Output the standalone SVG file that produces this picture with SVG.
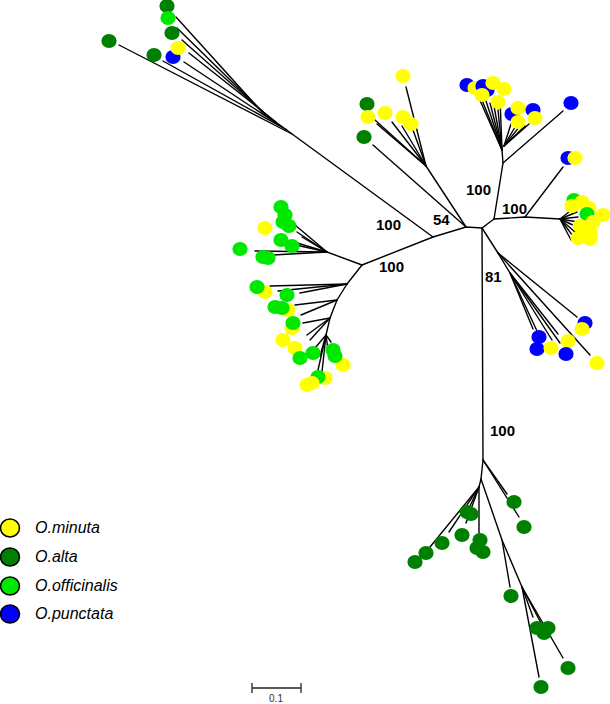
<svg xmlns="http://www.w3.org/2000/svg" width="610" height="704" viewBox="0 0 610 704">
<style>
.br{stroke:#000;stroke-width:1.4;fill:none;stroke-linecap:round}
.y{fill:#FFFF00}.d{fill:#008000}.g{fill:#00E800}.b{fill:#0000FF}
.bs{font-family:"Liberation Sans",Arial,sans-serif;font-weight:bold;font-size:15px;fill:#000}
.lg{font-family:"Liberation Sans",Arial,sans-serif;font-style:italic;font-size:16px;fill:#000}
.lc{stroke:#000;stroke-width:1.5}
</style>
<defs>
<ellipse id="t" rx="7.6" ry="7"/>
</defs>
<rect width="610" height="704" fill="#fff"/>
<g id="connectors" class="br">
<polyline points="433,237 466,227 482,228 494,219"/>
<line x1="433" y1="237" x2="262" y2="112"/>
<line x1="433" y1="237" x2="362" y2="265"/>
<line x1="466" y1="227" x2="426" y2="166"/>
<line x1="466" y1="227" x2="373" y2="145"/>
<polyline points="494,219 503,163 502,150"/>
<line x1="503" y1="163" x2="563" y2="111"/>
<polyline points="494,219 525,217 560,219"/>
<line x1="525" y1="217" x2="563" y2="167"/>
<line x1="482" y1="228" x2="483" y2="460"/>
<line x1="482" y1="228" x2="498" y2="253"/>
<line x1="176" y1="17" x2="262" y2="112"/>
<line x1="177" y1="28" x2="266" y2="115"/>
<line x1="182" y1="40" x2="270" y2="118"/>
<line x1="189" y1="53" x2="276" y2="122"/>
<line x1="184" y1="62" x2="282" y2="127"/>
<line x1="163" y1="61" x2="287" y2="130"/>
<line x1="119" y1="45" x2="292" y2="134"/>
<line x1="406" y1="87" x2="426" y2="166"/>
<line x1="375" y1="120" x2="426" y2="166"/>
<line x1="377" y1="124" x2="426" y2="166"/>
<line x1="392" y1="122" x2="426" y2="166"/>
<line x1="402" y1="126" x2="426" y2="166"/>
<line x1="413" y1="130" x2="426" y2="166"/>
<line x1="478" y1="96" x2="502" y2="150"/>
<line x1="482" y1="100" x2="502" y2="150"/>
<line x1="486" y1="101" x2="502" y2="150"/>
<line x1="490" y1="103" x2="502" y2="150"/>
<line x1="494" y1="106" x2="502" y2="150"/>
<line x1="498" y1="110" x2="502" y2="150"/>
<line x1="500" y1="98" x2="502" y2="150"/>
<line x1="511" y1="124" x2="504" y2="146"/>
<line x1="515" y1="127" x2="504" y2="146"/>
<line x1="520" y1="126" x2="504" y2="146"/>
<line x1="525" y1="126" x2="504" y2="146"/>
<line x1="529" y1="124" x2="504" y2="146"/>
<line x1="560" y1="219" x2="574" y2="208"/>
<line x1="560" y1="219" x2="577" y2="212"/>
<line x1="560" y1="219" x2="578" y2="217"/>
<line x1="560" y1="219" x2="578" y2="222"/>
<line x1="560" y1="219" x2="577" y2="227"/>
<line x1="560" y1="219" x2="575" y2="232"/>
<line x1="560" y1="219" x2="573" y2="236"/>
<line x1="560" y1="219" x2="571" y2="240"/>
<line x1="498" y1="253" x2="577" y2="317"/>
<line x1="498" y1="253" x2="590" y2="355"/>
<line x1="498" y1="253" x2="510" y2="273"/>
<line x1="510" y1="273" x2="533" y2="329"/>
<line x1="510" y1="273" x2="537" y2="331"/>
<line x1="510" y1="273" x2="552" y2="340"/>
<line x1="510" y1="273" x2="560" y2="343"/>
<line x1="510" y1="273" x2="558" y2="334"/>
<line x1="483" y1="460" x2="507" y2="494"/>
<line x1="483" y1="460" x2="519" y2="517"/>
<polyline points="483,460 481,479 479,487"/>
<line x1="479" y1="487" x2="430" y2="547"/>
<line x1="479" y1="487" x2="449" y2="532"/>
<line x1="479" y1="487" x2="466" y2="523"/>
<line x1="479" y1="487" x2="470" y2="506"/>
<line x1="479" y1="487" x2="479" y2="533"/>
<polyline points="481,479 502,540 522,587"/>
<line x1="502" y1="540" x2="510" y2="587"/>
<line x1="522" y1="587" x2="543" y2="627"/>
<line x1="522" y1="587" x2="533" y2="617"/>
<line x1="522" y1="587" x2="563" y2="658"/>
<line x1="522" y1="587" x2="539" y2="677"/>
<line x1="362" y1="265" x2="327" y2="252"/>
<line x1="327" y1="252" x2="295" y2="225"/>
<line x1="327" y1="252" x2="297" y2="232"/>
<line x1="327" y1="252" x2="302" y2="237"/>
<line x1="327" y1="252" x2="297" y2="243"/>
<line x1="327" y1="252" x2="287" y2="243"/>
<line x1="327" y1="252" x2="255" y2="251"/>
<line x1="327" y1="252" x2="273" y2="255"/>
<line x1="362" y1="265" x2="347" y2="284"/>
<line x1="347" y1="284" x2="270" y2="286"/>
<line x1="347" y1="284" x2="278" y2="291"/>
<line x1="347" y1="284" x2="300" y2="293"/>
<polyline points="347,284 337,300 330,318 326,335"/>
<line x1="337" y1="300" x2="295" y2="305"/>
<line x1="337" y1="300" x2="301" y2="315"/>
<line x1="330" y1="318" x2="303" y2="323"/>
<line x1="330" y1="318" x2="307" y2="335"/>
<line x1="330" y1="318" x2="310" y2="340"/>
<line x1="326" y1="335" x2="315" y2="348"/>
<line x1="326" y1="335" x2="320" y2="356"/>
<line x1="326" y1="335" x2="331" y2="342"/>
<line x1="326" y1="335" x2="328" y2="350"/>
<line x1="326" y1="335" x2="322" y2="372"/>
<line x1="326" y1="335" x2="318" y2="370"/>
</g>
<g id="tips-topleft">
<use href="#t" class="d" x="167" y="6"/>
<use href="#t" class="g" x="168" y="18"/>
<use href="#t" class="d" x="172" y="33"/>
<use href="#t" class="b" x="173" y="57"/>
<use href="#t" class="y" x="178" y="48"/>
<use href="#t" class="d" x="154" y="55"/>
<use href="#t" class="d" x="109" y="41"/>
</g>
<g id="tips-54">
<use href="#t" class="y" x="403" y="76"/>
<use href="#t" class="d" x="367" y="104"/>
<use href="#t" class="y" x="368" y="117"/>
<use href="#t" class="y" x="385" y="113"/>
<use href="#t" class="y" x="403" y="117"/>
<use href="#t" class="y" x="411" y="124"/>
<use href="#t" class="d" x="364" y="137"/>
</g>
<g id="tips-topright">
<use href="#t" class="b" x="467" y="85"/>
<use href="#t" class="y" x="475" y="88"/>
<use href="#t" class="b" x="483" y="86"/>
<use href="#t" class="b" x="487" y="90"/>
<use href="#t" class="y" x="482" y="95"/>
<use href="#t" class="y" x="493" y="83"/>
<use href="#t" class="y" x="504" y="89"/>
<use href="#t" class="y" x="498" y="102"/>
<use href="#t" class="b" x="512" y="114"/>
<use href="#t" class="y" x="518" y="108"/>
<use href="#t" class="b" x="533" y="110"/>
<use href="#t" class="y" x="535" y="118"/>
<use href="#t" class="y" x="518" y="122"/>
<use href="#t" class="b" x="571" y="103"/>
<use href="#t" class="b" x="568" y="158"/>
<use href="#t" class="y" x="575" y="158"/>
</g>
<g id="tips-right">
<use href="#t" class="g" x="574" y="200"/>
<use href="#t" class="y" x="572" y="206"/>
<use href="#t" class="y" x="582" y="202"/>
<use href="#t" class="y" x="589" y="208"/>
<use href="#t" class="g" x="587" y="214"/>
<use href="#t" class="y" x="603" y="215"/>
<use href="#t" class="y" x="593" y="222"/>
<use href="#t" class="y" x="580" y="226"/>
<use href="#t" class="y" x="590" y="232"/>
<use href="#t" class="y" x="578" y="238"/>
<use href="#t" class="y" x="590" y="239"/>
</g>
<g id="tips-lowerright">
<use href="#t" class="b" x="585" y="323"/>
<use href="#t" class="y" x="582" y="329"/>
<use href="#t" class="y" x="597" y="363"/>
<use href="#t" class="b" x="539" y="337"/>
<use href="#t" class="b" x="537" y="349"/>
<use href="#t" class="y" x="551" y="348"/>
<use href="#t" class="y" x="568" y="341"/>
<use href="#t" class="b" x="566" y="354"/>
</g>
<g id="tips-bottom">
<use href="#t" class="d" x="514" y="502"/>
<use href="#t" class="d" x="524" y="527"/>
<use href="#t" class="d" x="426" y="553"/>
<use href="#t" class="d" x="415" y="562"/>
<use href="#t" class="d" x="442" y="543"/>
<use href="#t" class="d" x="462" y="535"/>
<use href="#t" class="d" x="467" y="512"/>
<use href="#t" class="d" x="471" y="514"/>
<use href="#t" class="d" x="480" y="540"/>
<use href="#t" class="d" x="477" y="548"/>
<use href="#t" class="d" x="483" y="552"/>
<use href="#t" class="d" x="511" y="596"/>
<use href="#t" class="d" x="537" y="628"/>
<use href="#t" class="d" x="548" y="628"/>
<use href="#t" class="d" x="544" y="633"/>
<use href="#t" class="d" x="568" y="668"/>
<use href="#t" class="d" x="541" y="687"/>
</g>
<g id="tips-left-upper">
<use href="#t" class="y" x="265" y="228"/>
<use href="#t" class="g" x="281" y="207"/>
<use href="#t" class="g" x="285" y="215"/>
<use href="#t" class="g" x="283" y="222"/>
<use href="#t" class="g" x="289" y="226"/>
<use href="#t" class="g" x="281" y="240"/>
<use href="#t" class="g" x="292" y="246"/>
<use href="#t" class="g" x="240" y="249"/>
<use href="#t" class="g" x="263" y="257"/>
<use href="#t" class="g" x="268" y="258"/>
</g>
<g id="tips-left-lower">
<use href="#t" class="y" x="265" y="292"/>
<use href="#t" class="g" x="257" y="287"/>
<use href="#t" class="g" x="287" y="295"/>
<use href="#t" class="y" x="288" y="310"/>
<use href="#t" class="g" x="275" y="307"/>
<use href="#t" class="g" x="282" y="308"/>
<use href="#t" class="y" x="292" y="328"/>
<use href="#t" class="g" x="293" y="323"/>
<use href="#t" class="y" x="283" y="340"/>
<use href="#t" class="y" x="295" y="348"/>
<use href="#t" class="g" x="300" y="358"/>
<use href="#t" class="g" x="313" y="353"/>
<use href="#t" class="y" x="343" y="365"/>
<use href="#t" class="g" x="333" y="350"/>
<use href="#t" class="g" x="335" y="356"/>
<use href="#t" class="y" x="325" y="378"/>
<use href="#t" class="g" x="318" y="377"/>
<use href="#t" class="y" x="312" y="383"/>
<use href="#t" class="y" x="307" y="385"/>
</g>
<g id="bootstrap">
<text class="bs" x="376" y="230">100</text>
<text class="bs" x="433" y="225">54</text>
<text class="bs" x="466" y="195">100</text>
<text class="bs" x="502" y="214">100</text>
<text class="bs" x="379" y="272">100</text>
<text class="bs" x="485" y="282">81</text>
<text class="bs" x="490" y="436">100</text>
</g>
<g id="legend">
<ellipse class="y lc" cx="10" cy="528" rx="9.5" ry="9"/>
<ellipse class="d lc" cx="10" cy="557" rx="9.5" ry="9"/>
<ellipse class="g lc" cx="10" cy="586" rx="9.5" ry="9"/>
<ellipse class="b lc" cx="10" cy="614" rx="9.5" ry="9"/>
<text class="lg" x="35" y="533">O.minuta</text>
<text class="lg" x="35" y="562">O.alta</text>
<text class="lg" x="35" y="591">O.officinalis</text>
<text class="lg" x="35" y="619">O.punctata</text>
</g>
<g id="scalebar" stroke="#222" stroke-width="1.3">
<line x1="252" y1="688" x2="301" y2="688"/>
<line x1="252" y1="683" x2="252" y2="693"/>
<line x1="301" y1="683" x2="301" y2="693"/>
<text x="276" y="702" text-anchor="middle" stroke="none" fill="#333" font-family="Liberation Sans, Arial, sans-serif" font-size="10">0.1</text>
</g>
</svg>
